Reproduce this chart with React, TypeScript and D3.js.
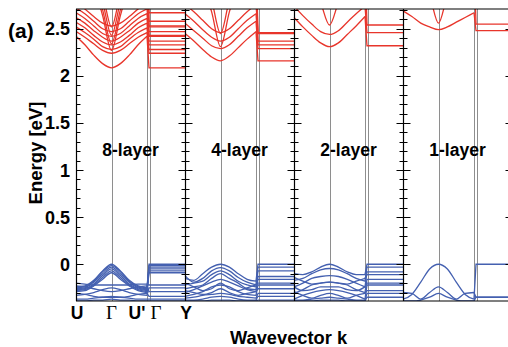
import React from 'react';
import * as d3 from 'd3';

const W = 508;
const H = 347;

const panelNames = ['8-layer', '4-layer', '2-layer', '1-layer'];
const kPointLabels = ['U', 'Γ', "U'", 'Γ', 'Y'];
const kPointPos = [0, 1, 2, 2.06, 3];
const yTickValues = [0, 0.5, 1, 1.5, 2, 2.5];
const yTickLabels = ['0', '0.5', '1', '1.5', '2', '2.5'];
const kSamples = [0, 0.25, 0.5, 0.75, 1, 1.25, 1.5, 1.75, 2];

// each row: energies (eV) at U, ¼, ½, ¾, Γ, ¼, ½, ¾, U', then the flat Γ–Y level
const cond8 = [
  [2.42, 2.33, 2.22, 2.13, 2.085, 2.13, 2.22, 2.33, 2.42, 2.085],
  [2.47, 2.41, 2.34, 2.27, 2.24, 2.27, 2.34, 2.41, 2.46, 2.24],
  [2.52, 2.46, 2.39, 2.31, 2.28, 2.31, 2.39, 2.46, 2.51, 2.28],
  [2.57, 2.51, 2.43, 2.36, 2.33, 2.36, 2.43, 2.51, 2.56, 2.33],
  [2.62, 2.56, 2.48, 2.41, 2.37, 2.41, 2.48, 2.56, 2.61, 2.37],
  [2.67, 2.61, 2.53, 2.45, 2.42, 2.45, 2.53, 2.61, 2.66, 2.42],
  [2.72, 2.66, 2.58, 2.50, 2.47, 2.50, 2.58, 2.66, 2.71, 2.47],
  [2.78, 2.71, 2.63, 2.56, 2.53, 2.56, 2.63, 2.71, 2.77, 2.53],
  [3.30, 3.10, 2.95, 2.64, 2.27, 2.64, 2.95, 3.10, 3.30, 2.58],
  [3.30, 3.10, 3.00, 2.70, 2.34, 2.70, 3.00, 3.10, 3.30, 2.67],
  [3.30, 3.10, 3.00, 2.78, 2.43, 2.78, 3.00, 3.10, 3.30, 2.43],
  [3.30, 3.10, 3.00, 2.86, 2.52, 2.86, 3.00, 3.10, 3.30, 2.52],
];
const val8 = [
  [-0.24, -0.23, -0.17, -0.07, 0.0, -0.07, -0.17, -0.23, -0.25, 0.0],
  [-0.25, -0.24, -0.18, -0.08, -0.015, -0.08, -0.18, -0.24, -0.26, -0.015],
  [-0.26, -0.25, -0.19, -0.10, -0.03, -0.10, -0.19, -0.25, -0.27, -0.03],
  [-0.27, -0.26, -0.21, -0.12, -0.05, -0.12, -0.21, -0.26, -0.28, -0.05],
  [-0.28, -0.27, -0.22, -0.14, -0.07, -0.14, -0.22, -0.27, -0.29, -0.07],
  [-0.29, -0.28, -0.23, -0.16, -0.09, -0.16, -0.23, -0.28, -0.30, -0.09],
  [-0.20, -0.21, -0.22, -0.22, -0.22, -0.22, -0.22, -0.21, -0.21, -0.22],
  [-0.23, -0.24, -0.26, -0.28, -0.29, -0.28, -0.26, -0.24, -0.23, -0.29],
  [-0.33, -0.32, -0.30, -0.27, -0.25, -0.27, -0.30, -0.32, -0.33, -0.25],
  [-0.31, -0.32, -0.34, -0.35, -0.35, -0.35, -0.34, -0.32, -0.31, -0.34],
  [-0.37, -0.37, -0.36, -0.35, -0.34, -0.35, -0.36, -0.37, -0.37, -0.37],
  [-0.39, -0.39, -0.38, -0.38, -0.37, -0.38, -0.38, -0.39, -0.39, -0.39],
];

const cond4 = [
  [2.45, 2.37, 2.28, 2.20, 2.16, 2.21, 2.30, 2.39, 2.47, 2.16],
  [2.56, 2.48, 2.40, 2.32, 2.29, 2.33, 2.42, 2.51, 2.58, 2.29],
  [2.66, 2.58, 2.49, 2.41, 2.37, 2.41, 2.50, 2.59, 2.66, 2.37],
  [2.76, 2.68, 2.59, 2.50, 2.46, 2.50, 2.59, 2.68, 2.76, 2.46],
  [3.30, 3.10, 2.95, 2.68, 2.31, 2.68, 2.95, 3.10, 3.30, 2.33],
  [3.30, 3.10, 3.00, 2.80, 2.45, 2.80, 3.00, 3.10, 3.30, 2.45],
];
const val4 = [
  [-0.15, -0.17, -0.10, -0.03, 0.0, -0.03, -0.10, -0.16, -0.18, 0.0],
  [-0.12, -0.19, -0.15, -0.07, -0.035, -0.07, -0.14, -0.19, -0.22, -0.03],
  [-0.22, -0.20, -0.18, -0.11, -0.07, -0.11, -0.18, -0.22, -0.24, -0.07],
  [-0.26, -0.24, -0.22, -0.15, -0.10, -0.15, -0.20, -0.26, -0.27, -0.13],
  [-0.30, -0.27, -0.23, -0.19, -0.16, -0.19, -0.23, -0.27, -0.29, -0.16],
  [-0.20, -0.24, -0.28, -0.26, -0.20, -0.26, -0.28, -0.25, -0.22, -0.20],
  [-0.34, -0.32, -0.29, -0.24, -0.22, -0.24, -0.29, -0.32, -0.33, -0.22],
  [-0.28, -0.30, -0.32, -0.30, -0.26, -0.30, -0.33, -0.31, -0.29, -0.26],
  [-0.36, -0.35, -0.33, -0.32, -0.31, -0.32, -0.34, -0.35, -0.36, -0.31],
  [-0.38, -0.38, -0.37, -0.35, -0.34, -0.35, -0.37, -0.38, -0.38, -0.34],
  [-0.39, -0.39, -0.39, -0.38, -0.38, -0.38, -0.39, -0.39, -0.39, -0.38],
];

const cond2 = [
  [2.62, 2.52, 2.43, 2.35, 2.31, 2.35, 2.44, 2.53, 2.63, 2.32],
  [2.74, 2.64, 2.55, 2.47, 2.44, 2.48, 2.57, 2.66, 2.74, 2.46],
  [3.30, 3.10, 3.00, 2.78, 2.54, 2.78, 3.00, 3.10, 3.30, 2.54],
];
const val2 = [
  [-0.10, -0.11, -0.08, -0.03, 0.0, -0.03, -0.08, -0.11, -0.11, 0.0],
  [-0.17, -0.15, -0.10, -0.06, -0.045, -0.06, -0.10, -0.15, -0.18, -0.03],
  [-0.24, -0.20, -0.15, -0.13, -0.12, -0.13, -0.16, -0.20, -0.24, -0.08],
  [-0.14, -0.18, -0.21, -0.20, -0.19, -0.20, -0.21, -0.18, -0.15, -0.11],
  [-0.31, -0.27, -0.22, -0.20, -0.19, -0.20, -0.22, -0.27, -0.30, -0.16],
  [-0.24, -0.28, -0.27, -0.24, -0.24, -0.24, -0.27, -0.28, -0.24, -0.20],
  [-0.37, -0.33, -0.30, -0.28, -0.27, -0.28, -0.30, -0.33, -0.37, -0.22],
  [-0.29, -0.33, -0.36, -0.33, -0.31, -0.33, -0.36, -0.33, -0.31, -0.28],
  [-0.38, -0.38, -0.37, -0.36, -0.35, -0.36, -0.37, -0.38, -0.38, -0.31],
  [-0.39, -0.39, -0.39, -0.38, -0.38, -0.38, -0.39, -0.39, -0.39, -0.35],
];

const cond1 = [
  [2.69, 2.63, 2.56, 2.52, 2.49, 2.52, 2.57, 2.62, 2.67, 2.48],
  [3.30, 3.10, 3.00, 2.85, 2.56, 2.85, 3.00, 3.10, 3.30, 2.55],
];
const val1 = [
  [-0.37, -0.32, -0.19, -0.05, 0.0, -0.05, -0.19, -0.32, -0.37, 0.0],
  [-0.30, -0.31, -0.37, -0.30, -0.24, -0.30, -0.37, -0.31, -0.30, -0.35],
  [-0.39, -0.39, -0.38, -0.35, -0.31, -0.35, -0.38, -0.39, -0.39, -0.35],
];

const conduction = [cond8, cond4, cond2, cond1];
const valence = [val8, val4, val2, val1];

const RED = '#e8352b';
const BLUE = '#4460b0';
const GRAY = '#8e8e8e';
const FONT = "'Liberation Sans', Arial, Helvetica, sans-serif";

const crisp = (v: number) => Math.round(v) + 0.5;

export default function App() {
  const top = 9;
  const bottom = 301;
  const left = 76;
  const y = d3.scaleLinear().domain([-0.39, 2.71]).range([bottom, top]);
  const panelLeft = d3.scaleLinear().domain([0, 4]).range([left, 512]);
  const kx = d3.scaleLinear().domain(kPointPos).range([0, 35.5, 71, 73, 109]);
  const smooth = d3
    .line<[number, number]>()
    .x((d) => d[0])
    .y((d) => d[1])
    .curve(d3.curveMonotoneX);
  const straight = d3.line<[number, number]>();

  const minorTicks = d3.range(-3, 28).map((i) => ({ v: i / 10, major: i % 5 === 0 }));

  const bandPaths = (rows: number[][], p: number, color: string, key: string) =>
    rows.map((r, j) => {
      const x0 = panelLeft(p);
      const pts: [number, number][] = kSamples.map((k, i) => [x0 + kx(k), y(r[i])]);
      const tail: [number, number][] = [
        [x0 + kx(2), y(r[8])],
        [x0 + kx(2.06), y(r[9])],
        [x0 + kx(3), y(r[9])],
      ];
      return (
        <g key={`${key}-${p}-${j}`}>
          <path d={smooth(pts) || ''} fill="none" stroke={color} strokeWidth={1.3} />
          <path d={straight(tail) || ''} fill="none" stroke={color} strokeWidth={1.3} />
        </g>
      );
    });

  return (
    <svg
      width={W}
      height={H}
      style={{ position: 'absolute', left: 0, top: 0, background: '#fff' }}
      fontFamily={FONT}
    >
      <defs>
        <clipPath id="plotClip">
          <rect x={left} y={top} width={W - left} height={bottom - top} />
        </clipPath>
      </defs>
      <rect x={0} y={0} width={W} height={H} fill="#fff" />

      <g clipPath="url(#plotClip)">
        {panelNames.map((_, p) =>
          [1, 2, 2.06].map((k, i) => (
            <line
              key={`g-${p}-${k}`}
              x1={crisp(panelLeft(p) + kx(k)) + (i === 2 ? 1 : 0)}
              x2={crisp(panelLeft(p) + kx(k)) + (i === 2 ? 1 : 0)}
              y1={top}
              y2={bottom}
              stroke={GRAY}
              strokeWidth={1}
            />
          ))
        )}
        {conduction.map((rows, p) => bandPaths(rows, p, RED, 'c'))}
        {valence.map((rows, p) => bandPaths(rows, p, BLUE, 'v'))}
      </g>

      <line x1={left} x2={W} y1={top} y2={top} stroke="#000" strokeWidth={1.2} />
      <line x1={left} x2={W} y1={bottom} y2={bottom} stroke="#000" strokeWidth={1.2} />

      {[0, 1, 2, 3, 4].map((i) => {
        const x = crisp(panelLeft(i));
        return (
          <g key={`ax-${i}`}>
            <line x1={x} x2={x} y1={top} y2={bottom} stroke="#000" strokeWidth={1.2} />
            {minorTicks.map((t) => {
              const len = t.major ? 7 : 4;
              const yy = crisp(y(t.v));
              return (
                <line
                  key={`t-${i}-${t.v}`}
                  x1={i === 0 ? x : x - len}
                  x2={x + len}
                  y1={yy}
                  y2={yy}
                  stroke="#000"
                  strokeWidth={1}
                />
              );
            })}
          </g>
        );
      })}

      {yTickValues.map((v, i) => (
        <text
          key={`yl-${i}`}
          x={70}
          y={y(v) + 6.5}
          textAnchor="end"
          fontSize={18}
          fontWeight="bold"
        >
          {yTickLabels[i]}
        </text>
      ))}

      {panelNames.map((name, p) => (
        <text
          key={`pn-${p}`}
          x={panelLeft(p) + 54.5}
          y={156}
          textAnchor="middle"
          fontSize={17.5}
          fontWeight="bold"
        >
          {name}
        </text>
      ))}

      {kPointLabels.map((lab, i) => {
        const isGamma = lab === 'Γ';
        const offsets = [1, 0, -10, 7, 1];
        return (
          <text
            key={`kl-${i}`}
            x={left + kx(kPointPos[i]) + offsets[i]}
            y={319}
            textAnchor="middle"
            fontSize={isGamma ? 19 : 17.5}
            fontWeight={isGamma ? 'normal' : 'bold'}
            fontFamily={isGamma ? "'Liberation Serif', 'Times New Roman', serif" : FONT}
          >
            {lab}
          </text>
        );
      })}

      <text x={8} y={38} fontSize={21} fontWeight="bold">
        (a)
      </text>
      <text
        transform="translate(42,153) rotate(-90)"
        textAnchor="middle"
        fontSize={18.5}
        fontWeight="bold"
      >
        Energy [eV]
      </text>
      <text x={288.5} y={344} textAnchor="middle" fontSize={18.3} fontWeight="bold">
        Wavevector k
      </text>
    </svg>
  );
}
